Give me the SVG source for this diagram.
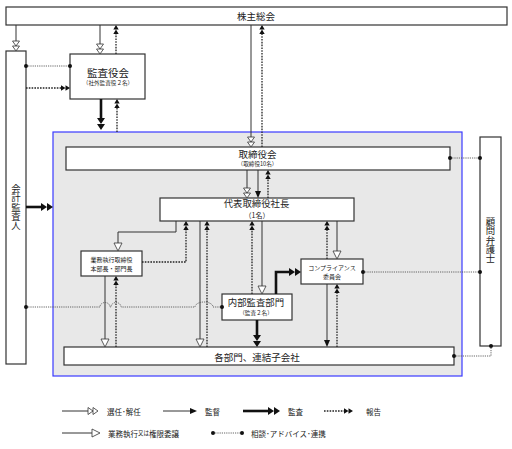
<svg xmlns="http://www.w3.org/2000/svg" width="512" height="449" viewBox="0 0 512 449">
<style>
text{font-family:"Noto Sans CJK JP","Noto Sans",sans-serif;fill:#222;text-anchor:middle;dominant-baseline:central}
.vt{writing-mode:vertical-rl;font-size:9.4px}
.box{fill:#fff;stroke:#333;stroke-width:1.2}
.ln{fill:none;stroke:#333;stroke-width:1}
.sel{marker-end:url(#mSel)}
.opn{marker-end:url(#mOpen)}
.sup{marker-end:url(#mSup)}
.aud{fill:none;stroke:#111;stroke-width:2.6;marker-end:url(#mAud)}
.rep{fill:none;stroke:#222;stroke-width:1.3;stroke-dasharray:1.6 1.2;marker-end:url(#mRep)}
.con{fill:none;stroke:#555;stroke-width:0.9;stroke-dasharray:1.2 1}
.dot{fill:#111}
.lg{text-anchor:start;font-size:7.5px}
</style>
<defs>
<marker id="mSel" markerUnits="userSpaceOnUse" viewBox="-0.5 -0.5 11 8" refX="0" refY="3.5" markerWidth="11" markerHeight="8" orient="auto" overflow="visible"><path d="M0,0 L5,3.5 L0,7 Z M5,0 L10,3.5 L5,7 Z" fill="#fff" stroke="#333" stroke-width="0.8"/></marker>
<marker id="mOpen" markerUnits="userSpaceOnUse" viewBox="-0.5 -0.5 9 9" refX="0" refY="4" markerWidth="9" markerHeight="9" orient="auto" overflow="visible"><path d="M0,0 L8,4 L0,8 Z" fill="#fff" stroke="#333" stroke-width="0.8"/></marker>
<marker id="mSup" markerUnits="userSpaceOnUse" viewBox="0 0 7 6" refX="0" refY="3" markerWidth="7" markerHeight="6" orient="auto" overflow="visible"><path d="M0,0 L7,3 L0,6 Z" fill="#111"/></marker>
<marker id="mAud" markerUnits="userSpaceOnUse" viewBox="0 0 12 8" refX="0" refY="4" markerWidth="12" markerHeight="8" orient="auto" overflow="visible"><path d="M0,0 L6,4 L0,8 Z M6,0 L12,4 L6,8 Z" fill="#111"/></marker>
<marker id="mRep" markerUnits="userSpaceOnUse" viewBox="0 0 9 6" refX="0" refY="3" markerWidth="9" markerHeight="6" orient="auto" overflow="visible"><path d="M0,0.3 L4.5,3 L0,5.7 Z M4.5,0.3 L9,3 L4.5,5.7 Z" fill="#111"/></marker>
</defs>

<g id="company-frame">
<rect x="53" y="132" width="409" height="244" fill="#e8e8e8" stroke="#3a3aff" stroke-width="1.2"/>
</g>

<g id="shareholders">
<rect class="box" x="6" y="7" width="501" height="18"/>
<text x="256" y="16" font-size="9.5">株主総会</text>
</g>

<g id="accounting-auditor">
<rect class="box" x="6" y="51" width="20" height="313"/>
<text class="vt" x="16" y="207">会計監査人</text>
</g>

<g id="audit-board">
<rect class="box" x="70" y="54" width="75" height="45"/>
<text x="108" y="72" font-size="10.5">監査役会</text>
<text x="108" y="82.5" font-size="5.6">（社外監査役２名）</text>
</g>

<g id="board">
<rect class="box" x="66" y="147" width="384" height="23"/>
<text x="257.5" y="153.5" font-size="9.5">取締役会</text>
<text x="257.5" y="163.5" font-size="5.6">（取締役10名）</text>
</g>

<g id="legal-advisor">
<rect class="box" x="480" y="137" width="21" height="209"/>
<text class="vt" x="490.5" y="240">顧問弁護士</text>
</g>

<g id="president">
<rect class="box" x="160" y="198" width="194" height="23"/>
<text x="256.5" y="203.3" font-size="9.4">代表取締役社長</text>
<text x="257" y="215" font-size="7">（1名）</text>
</g>

<g id="executives">
<rect class="box" x="81" y="251" width="61" height="25"/>
<text x="111.5" y="259" font-size="6">業務執行取締役</text>
<text x="111.5" y="268" font-size="6">本部長・部門長</text>
</g>

<g id="internal-audit">
<rect class="box" x="222" y="294" width="70" height="26"/>
<text x="256" y="302" font-size="9.4">内部監査部門</text>
<text x="256" y="312.5" font-size="5.6">（監査２名）</text>
</g>

<g id="compliance">
<rect class="box" x="301" y="259" width="62" height="25"/>
<text x="332" y="267.5" font-size="6">コンプライアンス</text>
<text x="332" y="276" font-size="6">委員会</text>
</g>

<g id="departments">
<rect class="box" x="64" y="347" width="390" height="18"/>
<text x="257" y="356.5" font-size="9.5">各部門、連結子会社</text>
</g>

<g id="connectors">
<line class="ln sel" x1="16" y1="25" x2="16" y2="41"/>
<line class="ln sel" x1="100" y1="25" x2="100" y2="44"/>
<line class="rep" x1="116" y1="54" x2="116" y2="34"/>
<line class="con" x1="26" y1="66" x2="70" y2="66"/>
<line class="rep" x1="26" y1="88" x2="61" y2="88"/>
<line class="aud" x1="101" y1="99" x2="101" y2="118"/>
<line class="rep" x1="117" y1="132" x2="117" y2="108"/>
<line class="aud" x1="26" y1="207" x2="41" y2="207"/>
<line class="ln sel" x1="251" y1="25" x2="251" y2="137"/>
<line class="rep" x1="262" y1="147" x2="262" y2="34"/>
<line class="con" x1="450" y1="158" x2="480" y2="158"/>
<line class="ln sel" x1="247" y1="170" x2="247" y2="188"/>
<line class="ln sup" x1="258" y1="170" x2="258" y2="191"/>
<line class="rep" x1="268" y1="198" x2="268" y2="179"/>
<path class="ln opn" d="M176,221 V232 H118 V243"/>
<path class="rep" d="M142,262 H186 V230"/>
<line class="ln opn" x1="105" y1="276" x2="105" y2="339"/>
<line class="rep" x1="116" y1="347" x2="116" y2="285"/>
<line class="ln opn" x1="200" y1="221" x2="200" y2="339" stroke-width="1.6"/>
<line class="rep" x1="207" y1="347" x2="207" y2="230"/>
<line class="ln opn" x1="262" y1="221" x2="262" y2="286"/>
<line class="rep" x1="252" y1="294" x2="252" y2="230"/>
<line class="ln opn" x1="337" y1="221" x2="337" y2="251"/>
<line class="rep" x1="327" y1="259" x2="327" y2="230"/>
<line class="aud" x1="257" y1="320" x2="257" y2="335"/>
<path class="aud" d="M276,294 V272 H289"/>
<line class="ln sup" x1="327" y1="284" x2="327" y2="340"/>
<line class="rep" x1="337" y1="347" x2="337" y2="293"/>
<line class="con" x1="363" y1="272" x2="480" y2="272"/>
<path class="con" d="M454,356 H491 V346"/>
<path class="con" d="M26,307 H100 A5,4.5 0 0 1 110,307 H111 A5,4.5 0 0 1 121,307 H195 A9,5 0 0 1 213,307 H222"/>
<g class="dot">
<circle cx="26" cy="66" r="2"/><circle cx="70" cy="66" r="2"/>
<circle cx="450" cy="158" r="2"/><circle cx="480" cy="158" r="2"/>
<circle cx="363" cy="272" r="2"/><circle cx="480" cy="272" r="2"/>
<circle cx="454" cy="356" r="2"/><circle cx="491" cy="346" r="2"/>
<circle cx="26" cy="307" r="2"/><circle cx="222" cy="307" r="2"/>
</g>
</g>

<g id="legend">
<line class="ln sel" x1="62" y1="411" x2="88" y2="411"/>
<text class="lg" x="107" y="411">選任･解任</text>
<line class="ln sup" x1="163" y1="411" x2="190" y2="411"/>
<text class="lg" x="205" y="411">監督</text>
<line class="aud" x1="243" y1="411" x2="268" y2="411"/>
<text class="lg" x="288" y="411">監査</text>
<line class="rep" x1="324" y1="411" x2="344" y2="411"/>
<text class="lg" x="366" y="411">報告</text>
<line class="ln opn" x1="62" y1="433" x2="92" y2="433"/>
<text class="lg" x="108" y="433">業務執行<tspan font-size="5.5">又は</tspan>権限委譲</text>
<line class="con" x1="213" y1="433" x2="242" y2="433"/>
<circle class="dot" cx="213" cy="433" r="2"/><circle class="dot" cx="242" cy="433" r="2"/>
<text class="lg" x="251" y="433">相談･アドバイス･連携</text>
</g>
</svg>
